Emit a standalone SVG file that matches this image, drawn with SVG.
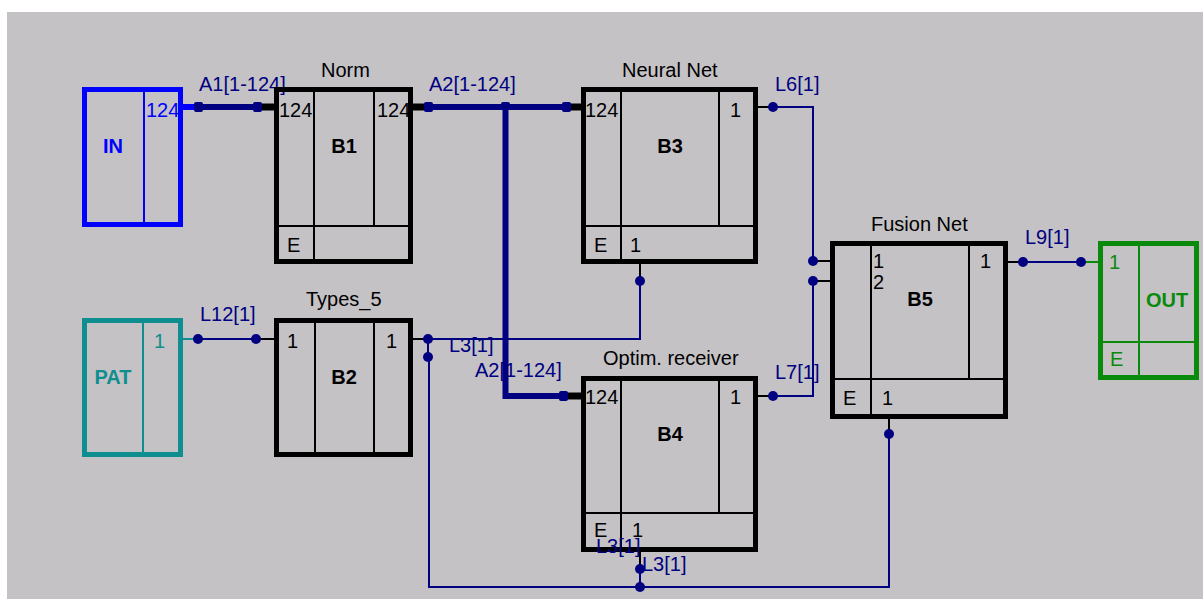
<svg xmlns="http://www.w3.org/2000/svg" width="1203" height="599" viewBox="0 0 1203 599">
<style>
text{font-family:"Liberation Sans",Arial,sans-serif;font-size:20px}
.lbl{fill:#000080}
.t{fill:#000}
.b{font-weight:bold;font-size:20px;text-anchor:middle}
.box{fill:none;stroke:#000;stroke-width:5}
.in{fill:none;stroke:#000;stroke-width:2}
.thick{fill:none;stroke:#000080;stroke-width:6}
.thin{fill:none;stroke:#000080;stroke-width:2}
.stubK{stroke:#000;stroke-width:7}
.stubk{stroke:#000;stroke-width:2}
.dot{fill:#000080}
</style>
<rect x="0" y="0" width="1203" height="599" fill="#fff"/>
<rect x="7" y="12" width="1196" height="587" fill="#c4c2c5"/>

<g id="connectors">
  <text class="lbl" x="475" y="377">A2[1-124]</text>
  <!-- A1 -->
  <line x1="183" y1="107" x2="198" y2="107" stroke="#0000ff" stroke-width="6"/>
  <line class="thick" x1="198" y1="107" x2="257" y2="107"/>
  <line class="stubK" x1="257" y1="107" x2="277" y2="107"/>
  <rect class="dot" x="194" y="102" width="9" height="10" rx="2"/>
  <rect class="dot" x="253" y="102" width="9" height="10" rx="2"/>
  <!-- A2 -->
  <line class="stubK" x1="410" y1="107" x2="428" y2="107"/>
  <line class="thick" x1="428" y1="107" x2="566" y2="107"/>
  <line class="stubK" x1="566" y1="107" x2="584" y2="107"/>
  <path class="thick" d="M505.5,107 V396 H563"/>
  <line class="stubK" x1="563" y1="396" x2="584" y2="396"/>
  <rect class="dot" x="424" y="102" width="9" height="10" rx="2"/>
  <rect class="dot" x="562" y="102" width="9" height="10" rx="2"/>
  <rect class="dot" x="501" y="102" width="9" height="8" rx="2"/>
  <rect class="dot" x="559" y="391" width="9" height="10" rx="2"/>
  <!-- L6 -->
  <line class="stubk" x1="756" y1="107" x2="773" y2="107"/>
  <path class="thin" d="M773,107 H813 V261"/>
  <line class="stubk" x1="813" y1="261" x2="833" y2="261"/>
  <circle class="dot" cx="773" cy="107" r="5"/>
  <circle class="dot" cx="813" cy="261" r="5"/>
  <!-- L7 -->
  <line class="stubk" x1="756" y1="396" x2="773" y2="396"/>
  <path class="thin" d="M773,396 H813 V281"/>
  <line class="stubk" x1="813" y1="281" x2="833" y2="281"/>
  <circle class="dot" cx="773" cy="396" r="5"/>
  <circle class="dot" cx="813" cy="281" r="5"/>
  <!-- L9 -->
  <line class="stubk" x1="1006" y1="262" x2="1023" y2="262"/>
  <line class="thin" x1="1023" y1="262" x2="1081" y2="262"/>
  <line x1="1081" y1="262" x2="1101" y2="262" stroke="#0a8a0a" stroke-width="2"/>
  <circle class="dot" cx="1023" cy="262" r="5"/>
  <circle class="dot" cx="1081" cy="262" r="5"/>
  <!-- L12 -->
  <line x1="183" y1="339" x2="198" y2="339" stroke="#0e8e8e" stroke-width="2"/>
  <line class="thin" x1="198" y1="339" x2="256" y2="339"/>
  <line class="stubk" x1="256" y1="339" x2="277" y2="339"/>
  <circle class="dot" cx="198" cy="339" r="5"/>
  <circle class="dot" cx="256" cy="339" r="5"/>
  <!-- L3 -->
  <line class="stubk" x1="410" y1="339" x2="428" y2="339"/>
  <path class="thin" d="M428,339 H640 V281"/>
  <line class="stubk" x1="640" y1="281" x2="640" y2="262"/>
  <line class="thin" x1="428" y1="339" x2="428" y2="357"/>
  <path class="thin" d="M429,357 V587 H889 V434"/>
  <line class="stubk" x1="889" y1="434" x2="889" y2="417"/>
  <line class="thin" x1="640" y1="569" x2="640" y2="587"/>
  <line class="stubk" x1="640" y1="569" x2="640" y2="550"/>
  <circle class="dot" cx="428" cy="339" r="5"/>
  <circle class="dot" cx="428" cy="357" r="5"/>
  <circle class="dot" cx="640" cy="281" r="5"/>
  <circle class="dot" cx="889" cy="434" r="5"/>
  <circle class="dot" cx="640" cy="569" r="5"/>
  <circle class="dot" cx="640" cy="587" r="5"/>
  <!-- labels -->
  <text class="lbl" x="199" y="91">A1[1-124]</text>
  <text class="lbl" x="429" y="91">A2[1-124]</text>
  <text class="lbl" x="775" y="91">L6[1]</text>
  <text class="lbl" x="1025" y="244">L9[1]</text>
  <text class="lbl" x="200" y="321">L12[1]</text>
  <text class="lbl" x="449" y="352">L3[1]</text>
  <text class="lbl" x="775" y="379">L7[1]</text>
</g>

<g id="IN">
  <rect x="84.5" y="89.5" width="96" height="135" fill="none" stroke="#0000ff" stroke-width="5"/>
  <line x1="144" y1="92" x2="144" y2="222" stroke="#0000ff" stroke-width="2"/>
  <text x="146" y="117" fill="#0000ff">124</text>
  <text class="b" x="113" y="153" fill="#0000ff">IN</text>
</g>

<g id="PAT">
  <rect x="84.5" y="320.5" width="96" height="134" fill="none" stroke="#0e8e8e" stroke-width="5"/>
  <line x1="143" y1="323" x2="143" y2="452" stroke="#0e8e8e" stroke-width="2"/>
  <text x="154" y="348" fill="#0e8e8e">1</text>
  <text class="b" x="113" y="384" fill="#0e8e8e">PAT</text>
</g>

<g id="B1">
  <rect class="box" x="276.5" y="89.5" width="134" height="172"/>
  <line class="in" x1="314" y1="92" x2="314" y2="259"/>
  <line class="in" x1="374" y1="92" x2="374" y2="226"/>
  <line class="in" x1="279" y1="226" x2="408" y2="226"/>
  <text class="t" x="321" y="77">Norm</text>
  <text class="t" x="279" y="117">124</text>
  <text class="t" x="377" y="117">124</text>
  <text class="t b" x="344" y="153">B1</text>
  <text class="t" x="287" y="252">E</text>
</g>

<g id="B2">
  <rect class="box" x="276.5" y="320.5" width="134" height="134"/>
  <line class="in" x1="315" y1="323" x2="315" y2="452"/>
  <line class="in" x1="374" y1="323" x2="374" y2="452"/>
  <text class="t" x="306" y="306">Types_5</text>
  <text class="t" x="287" y="348">1</text>
  <text class="t" x="386" y="348">1</text>
  <text class="t b" x="344" y="384">B2</text>
</g>

<g id="B3">
  <rect class="box" x="583.5" y="89.5" width="172" height="172"/>
  <line class="in" x1="621" y1="92" x2="621" y2="259"/>
  <line class="in" x1="719" y1="92" x2="719" y2="226"/>
  <line class="in" x1="586" y1="226" x2="753" y2="226"/>
  <text class="t" x="622" y="77">Neural Net</text>
  <text class="t" x="585" y="117">124</text>
  <text class="t" x="730" y="117">1</text>
  <text class="t b" x="670" y="153">B3</text>
  <text class="t" x="594" y="252">E</text>
  <text class="t" x="630" y="252">1</text>
</g>

<g id="B4">
  <rect class="box" x="583.5" y="378.5" width="172" height="171"/>
  <line class="in" x1="621" y1="381" x2="621" y2="547"/>
  <line class="in" x1="719" y1="381" x2="719" y2="513"/>
  <line class="in" x1="586" y1="513" x2="753" y2="513"/>
  <text class="t" x="603" y="365">Optim. receiver</text>
  <text class="t" x="585" y="404">124</text>
  <text class="t" x="730" y="404">1</text>
  <text class="t b" x="670" y="441">B4</text>
  <text class="t" x="594" y="537">E</text>
  <text class="t" x="632" y="537">1</text>
</g>

<g id="B5">
  <rect class="box" x="832.5" y="243.5" width="173" height="173"/>
  <line class="in" x1="871" y1="246" x2="871" y2="414"/>
  <line class="in" x1="969" y1="246" x2="969" y2="379"/>
  <line class="in" x1="835" y1="379" x2="1003" y2="379"/>
  <text class="t" x="871" y="231">Fusion Net</text>
  <text class="t" x="873" y="268">1</text>
  <text class="t" x="873" y="289">2</text>
  <text class="t" x="980" y="268">1</text>
  <text class="t b" x="920" y="306">B5</text>
  <text class="t" x="843" y="405">E</text>
  <text class="t" x="882" y="405">1</text>
</g>

<g id="OUT">
  <rect x="1100.5" y="243.5" width="96" height="134" fill="none" stroke="#0a8a0a" stroke-width="5"/>
  <line x1="1139" y1="246" x2="1139" y2="375" stroke="#0a8a0a" stroke-width="2"/>
  <line x1="1103" y1="342" x2="1194" y2="342" stroke="#0a8a0a" stroke-width="2"/>
  <text x="1109" y="269" fill="#0a8a0a">1</text>
  <text class="b" x="1167" y="307" fill="#0a8a0a">OUT</text>
  <text x="1110" y="366" fill="#0a8a0a">E</text>
</g>

<g id="labels-over">
  <text class="lbl" x="596" y="553">L3[1]</text>
  <text class="lbl" x="642" y="571">L3[1]</text>
</g>
</svg>
